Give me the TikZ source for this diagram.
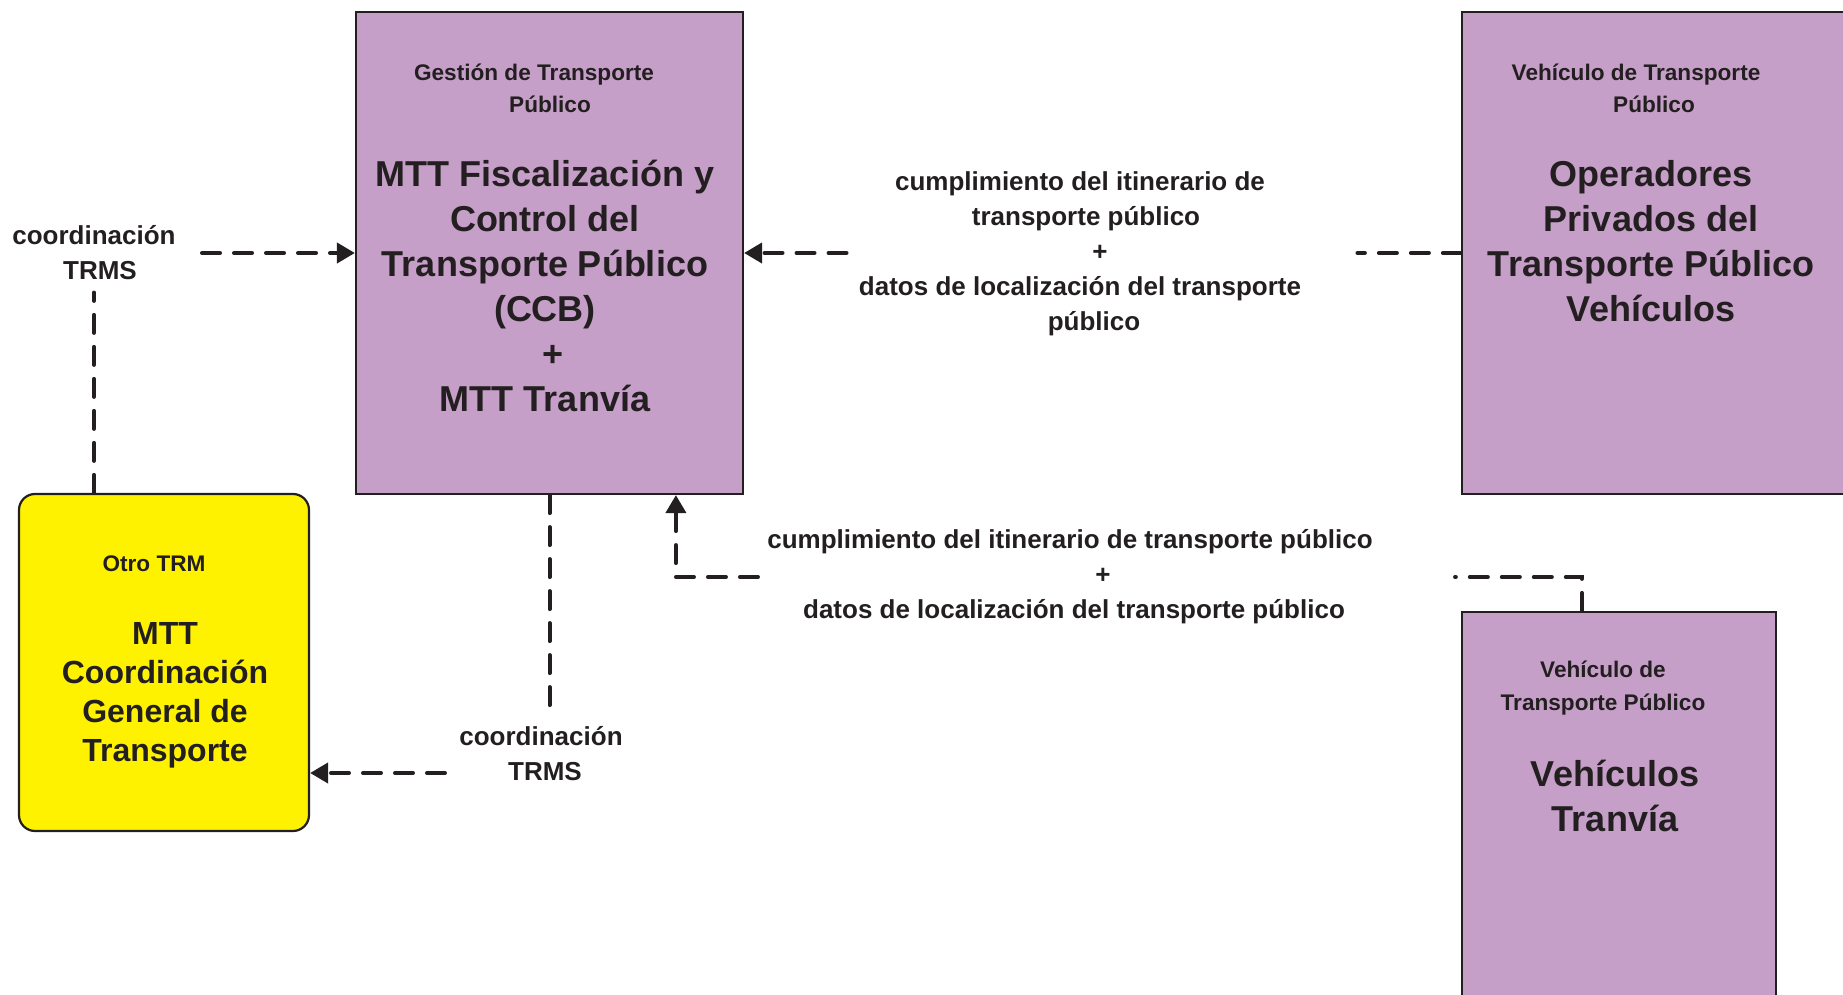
\documentclass[tikz,border=0pt]{standalone}
\usepackage{fontspec}
\setmainfont{Liberation Sans}
\usetikzlibrary{arrows.meta,calc}
\definecolor{ink}{HTML}{231F20}
\definecolor{lilac}{HTML}{C69FC9}
\definecolor{yel}{HTML}{FFF200}
\tikzset{
  pbox/.style={draw=ink, line width=1.1pt, fill=lilac, inner sep=0pt},
  ybox/.style={draw=ink, line width=1.1pt, fill=yel, rounded corners=8pt, inner sep=0pt},
  small/.style={font=\bfseries\fontsize{11.3}{16}\selectfont, text=ink, align=center, inner sep=0pt},
  big/.style={font=\bfseries\fontsize{18}{22.5}\selectfont, text=ink, align=center, inner sep=0pt},
  lbl/.style={font=\bfseries\fontsize{13}{17.5}\selectfont, text=ink, align=center, inner sep=3pt},
  dl/.style={draw=ink, line width=2pt, line cap=round, dash pattern=on 9pt off 7pt},
  arr/.style={dl, -{Triangle[length=9pt,width=10pt]}}
}
\begin{document}
\begin{tikzpicture}[x=0.5pt,y=-0.5pt]
\useasboundingbox (0,0) rectangle (1843,995);
% boxes
\node[pbox, minimum width=193.5pt, minimum height=241pt] (ccb) at (549.5,253) {};
\node[pbox, minimum width=204pt, minimum height=241pt] (opr) at (1666,253) {};
\node[pbox, minimum width=157pt, minimum height=205pt] (tram) at (1619,817) {};
\node[ybox, minimum width=145pt, minimum height=168.5pt] (yelb) at (164,662.5) {};
% box texts
\node[small] (ccbh) at (534,88) {Gestión de Transporte\\\hspace*{16pt}Público};
\node[big] (ccbt) at (545,286) {MTT Fiscalización y\\Control del\\Transporte Público\\(CCB)\\\hspace*{8pt}+\\MTT Tranvía};
\node[small] (oprh) at (1636,88) {Vehículo de Transporte\\\hspace*{18pt}Público};
\node[big] (oprt) at (1651,241) {Operadores\\Privados del\\Transporte Público\\Vehículos};
\node[small, font=\bfseries\fontsize{11.3}{16.5}\selectfont] (tramh) at (1603,688) {Vehículo de\\Transporte Público};
\node[big] (tramt) at (1615,796) {Vehículos\\Tranvía};
\node[small] (yelh) at (154,564) {Otro TRM};
\node[big, font=\bfseries\fontsize{16}{19.5}\selectfont] (yelt) at (165,695) {MTT\\Coordinación\\General de\\Transporte};
% labels
\node[lbl] (lab1) at (94,253) {coordinación\\\hspace*{6pt}TRMS};
\node[lbl] (lab2) at (541,754) {coordinación\\\hspace*{4pt}TRMS};
\node[lbl] (lab3) at (1080,254) {cumplimiento del itinerario de\\\hspace*{6pt}transporte público\\\hspace*{20pt}+\\datos de localización del transporte\\\hspace*{14pt}público};
\node[lbl] (lab4) at (1070,577) {cumplimiento del itinerario de transporte público\\\hspace*{33pt}+\\\hspace*{4pt}datos de localización del transporte público};
% connectors
\draw[dl] (yelb.north -| lab1.south) -- ($(lab1.south)+(0,6)$);
\draw[arr] ($(lab1.east |- ccb.west)+(20,0)$) -- (ccb.west);
\draw[dl] (ccb.south) -- ($(ccb.south |- lab2.north)+(0,-12)$);
\coordinate (s2) at ($(lab2.west)+(-8,19)$);
\draw[arr] (s2) -- (s2 -| yelb.east);
\draw[arr] ($(lab3.west |- ccb.east)+(-6,0)$) -- (ccb.east);
\draw[dl] (opr.west) -- ($(lab3.east |- opr.west)+(50,0)$);
\coordinate (t4) at ($(tram.north west)+(121,0)$);
\coordinate (b4) at ($(ccb.south west)+(321,0)$);
\draw[dl] (t4) |- ($(lab4.east)+(76,0)$);
\draw[arr] ($(lab4.west)+(-3,0)$) -| (b4);
\end{tikzpicture}
\end{document}
